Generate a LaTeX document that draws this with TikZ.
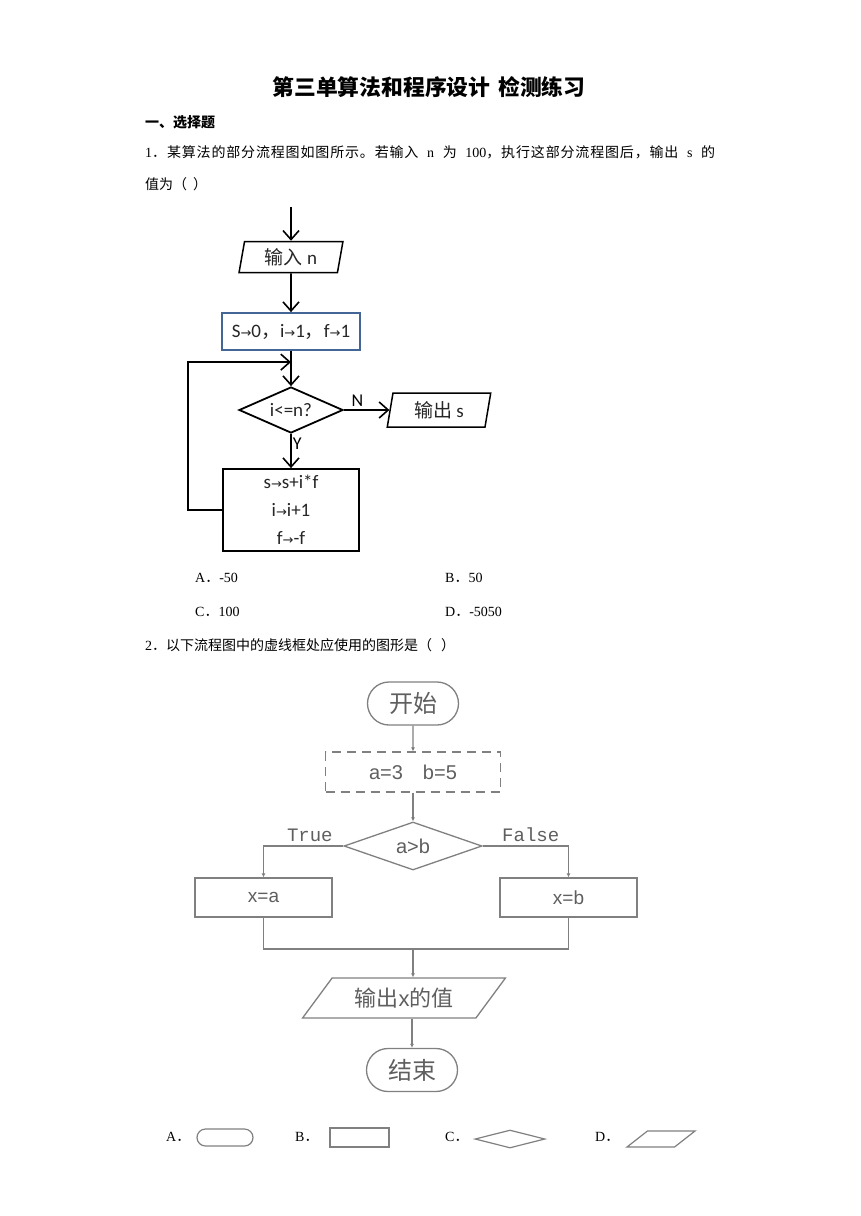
\documentclass[tikz,border=0pt]{standalone}
\usepackage{fontspec}
\setmainfont{Liberation Serif}
\newfontfamily\cjk{Noto Sans CJK SC}
\newfontfamily\cjks{Noto Sans CJK SC}[LetterSpace=6]
\newfontfamily\calib{Carlito}
\newfontfamily\arrowfont{DejaVu Sans}
\newfontfamily\monof{Liberation Mono}
\newfontfamily\arial{Liberation Sans}
\usetikzlibrary{arrows.meta,positioning,shapes.geometric,shapes.misc}
\definecolor{boxblue}{RGB}{68,102,150}
\definecolor{scangray}{RGB}{128,128,128}
\definecolor{scantext}{RGB}{95,95,95}
\newcommand{\gives}{{\arrowfont\fontsize{13}{13}\selectfont →}}
\tikzset{qtext/.style={anchor=west,inner sep=0pt,font=\fontsize{14}{16}\selectfont},flow/.style={line width=1.8pt,>={Straight Barb[length=9pt,width=16pt,line width=1.6pt]}},io node/.style={trapezium,trapezium left angle=80,trapezium right angle=100,trapezium stretches=true,draw,line width=1.5pt,minimum width=104pt,minimum height=31pt,inner sep=0pt,font=\calib\fontsize{19}{21}\selectfont,text=black!85},proc node/.style={rectangle,draw,line width=1.8pt,align=center,inner sep=0pt,font=\calib\fontsize{19}{28}\selectfont,text=black!85},test node/.style={diamond,draw,line width=1.8pt,aspect=2.3,inner sep=0pt,minimum width=104pt,minimum height=46pt,font=\calib\fontsize{19}{21}\selectfont,text=black!85}}
\tikzset{line2/.style={draw=scangray,line width=1.3pt,>={Latex[length=4pt,width=4pt]}},term node/.style={rounded rectangle,draw=scangray,line width=1.3pt,minimum width=91pt,minimum height=43pt,inner sep=0pt,text=scantext,font=\cjk\fontsize{24}{26}\selectfont},box node/.style={rectangle,draw=scangray,line width=1.3pt,minimum width=137pt,minimum height=39pt,inner sep=0pt,text=scantext,font=\arial\fontsize{19}{21}\selectfont},dash node/.style={box node,dash pattern=on 9pt off 6pt,minimum width=175pt,minimum height=40pt,font=\arial\fontsize{20}{22}\selectfont},cond node/.style={diamond,draw=scangray,line width=1.3pt,aspect=2.9,minimum width=138pt,minimum height=48pt,inner sep=0pt,text=scantext,font=\arial\fontsize{20}{22}\selectfont},out node/.style={trapezium,trapezium left angle=45,trapezium right angle=135,trapezium stretches=true,draw=scangray,line width=1.3pt,minimum width=203pt,minimum height=40pt,inner sep=0pt,text=scantext,font=\arial\fontsize{22}{24}\selectfont},flow label/.style={text=scantext,font=\monof\fontsize{19}{20}\selectfont,inner sep=4pt},pick/.style={draw=scangray,line width=1.2pt,inner sep=2pt}}

\begin{document}
\begin{tikzpicture}[x=1pt,y=-1pt]
  \useasboundingbox (0,0) rectangle (860,1216);
  \fill[white] (0,0) rectangle (860,1216);

  % heading and question 1
  \node[font=\cjk\bfseries\fontsize{21.8}{24}\selectfont,inner sep=0pt] (title) at (429,87) {第三单算法和程序设计\hspace{8pt}检测练习};
  \node[qtext,font=\cjk\bfseries\fontsize{14}{16}\selectfont] (sect) at (145,122) {一、选择题};
  \node[qtext] (q1a) at (145,152) {\makebox[570pt][s]{1{\cjks ．某算法的部分流程图如图所示。若输入} n {\cjks 为} 100{\cjks ，执行这部分流程图后，输出} s {\cjks 的}}};
  \node[qtext] (q1b) at (145,184) {\cjk 值为（\hspace{6pt}）};

  % flow chart 1
  \coordinate (entry) at (291,207);
  \node[io node, on grid] (inp) at (291,257) {{\cjk 输入} n};
  \node[proc node, on grid, draw=boxblue, minimum width=138pt, minimum height=37pt] (init) [below = 74.5pt of inp] {S\gives0{\cjk ，}i\gives1{\cjk ，}f\gives1};
  \node[test node, on grid] (test) [below = 78.5pt of init] {i<=n?};
  \node[io node, on grid, minimum width=104pt, minimum height=34pt] (outs) [right = 148pt of test] {{\cjk 输出} s};
  \node[proc node, on grid, minimum width=136pt, minimum height=82pt] (body) [below = 100pt of test] {s\gives s+i*f\\ i\gives i+1\\ f\gives-f};
  \coordinate[above = 24pt of test.north] (join);

  \path[flow] (entry) edge [->] (inp);
  \path[flow] (inp) edge [->] (init);
  \path[flow] (init) edge [->] (test);
  \path[flow] (test) edge [->] node[pos=0.3,above,inner sep=3pt,font=\calib\fontsize{18}{20}\selectfont] (nlab) {N} (outs);
  \path[flow] (test) edge [->] node[pos=0.28,right,inner sep=1pt,font=\calib\fontsize{18}{20}\selectfont] (ylab) {Y} (body);
  \draw[flow,->] (body.west) -- ++(-34pt,0) |- (join);

  % answers 1 and question 2
  \node[qtext] (optA) at (195,578) {A{\cjk ．}-50};
  \node[qtext] (optB) at (445,578) {B{\cjk ．}50};
  \node[qtext] (optC) at (195,612) {C{\cjk ．}100};
  \node[qtext] (optD) at (445,612) {D{\cjk ．}-5050};
  \node[qtext] (q2) at (145,645) {2{\cjk ．以下流程图中的虚线框处应使用的图形是（\hspace{9pt}）}};

  % flow chart 2
  \node[term node, on grid] (start) at (413,703.5) {开始};
  \node[dash node, on grid] (assign) [below = 68.5pt of start] {a=3\hspace{20pt}b=5};
  \node[cond node, on grid] (cmp) [below = 74pt of assign] {a>b};
  \node[box node, on grid] (xa) [below left = 51.5pt and 149.5pt of cmp] {x=a};
  \node[box node, on grid] (xb) [below right = 51.5pt and 155.5pt of cmp] {x=b};
  \coordinate (merge) at (413,949);
  \node[out node] (show) at (404,998) {{\cjk 输出}x{\cjk 的值}};
  \node[term node] (stop) at (412,1070) {结束};

  \path[line2] (start) edge [->] (assign);
  \path[line2] (assign) edge [->] (cmp);
  \draw[line2,->] (cmp.west) -| node[pos=0.21,above,flow label] (tlab) {True} (xa.north);
  \draw[line2,->] (cmp.east) -| node[pos=0.28,above,flow label] (flab) {False} (xb.north);
  \draw[line2] (xa.south) |- (merge) -| (xb.south);
  \draw[line2,->] (merge) -- (merge |- show.north);
  \draw[line2,->] (stop.north |- show.south) -- (stop.north);

  % answers 2
  \node[qtext] (pickA) at (166,1137) {A{\cjk ．}};
  \node[qtext] (pickB) at (295,1137) {B{\cjk ．}};
  \node[qtext] (pickC) at (445,1137) {C{\cjk ．}};
  \node[qtext] (pickD) at (595,1137) {D{\cjk ．}};
  \node[pick, rounded rectangle, minimum width=60pt, minimum height=17pt] (shA) at (225,1137.5) {};
  \node[pick, rectangle, minimum width=59pt, minimum height=19pt] (shB) at (359.5,1137.5) {};
  \node[pick, diamond, minimum width=70pt, minimum height=18pt] (shC) at (510,1139) {};
  \node[pick, trapezium, trapezium left angle=53, trapezium right angle=127, trapezium stretches=true, minimum width=68pt, minimum height=16pt] (shD) at (661,1139) {};
\end{tikzpicture}
\end{document}
